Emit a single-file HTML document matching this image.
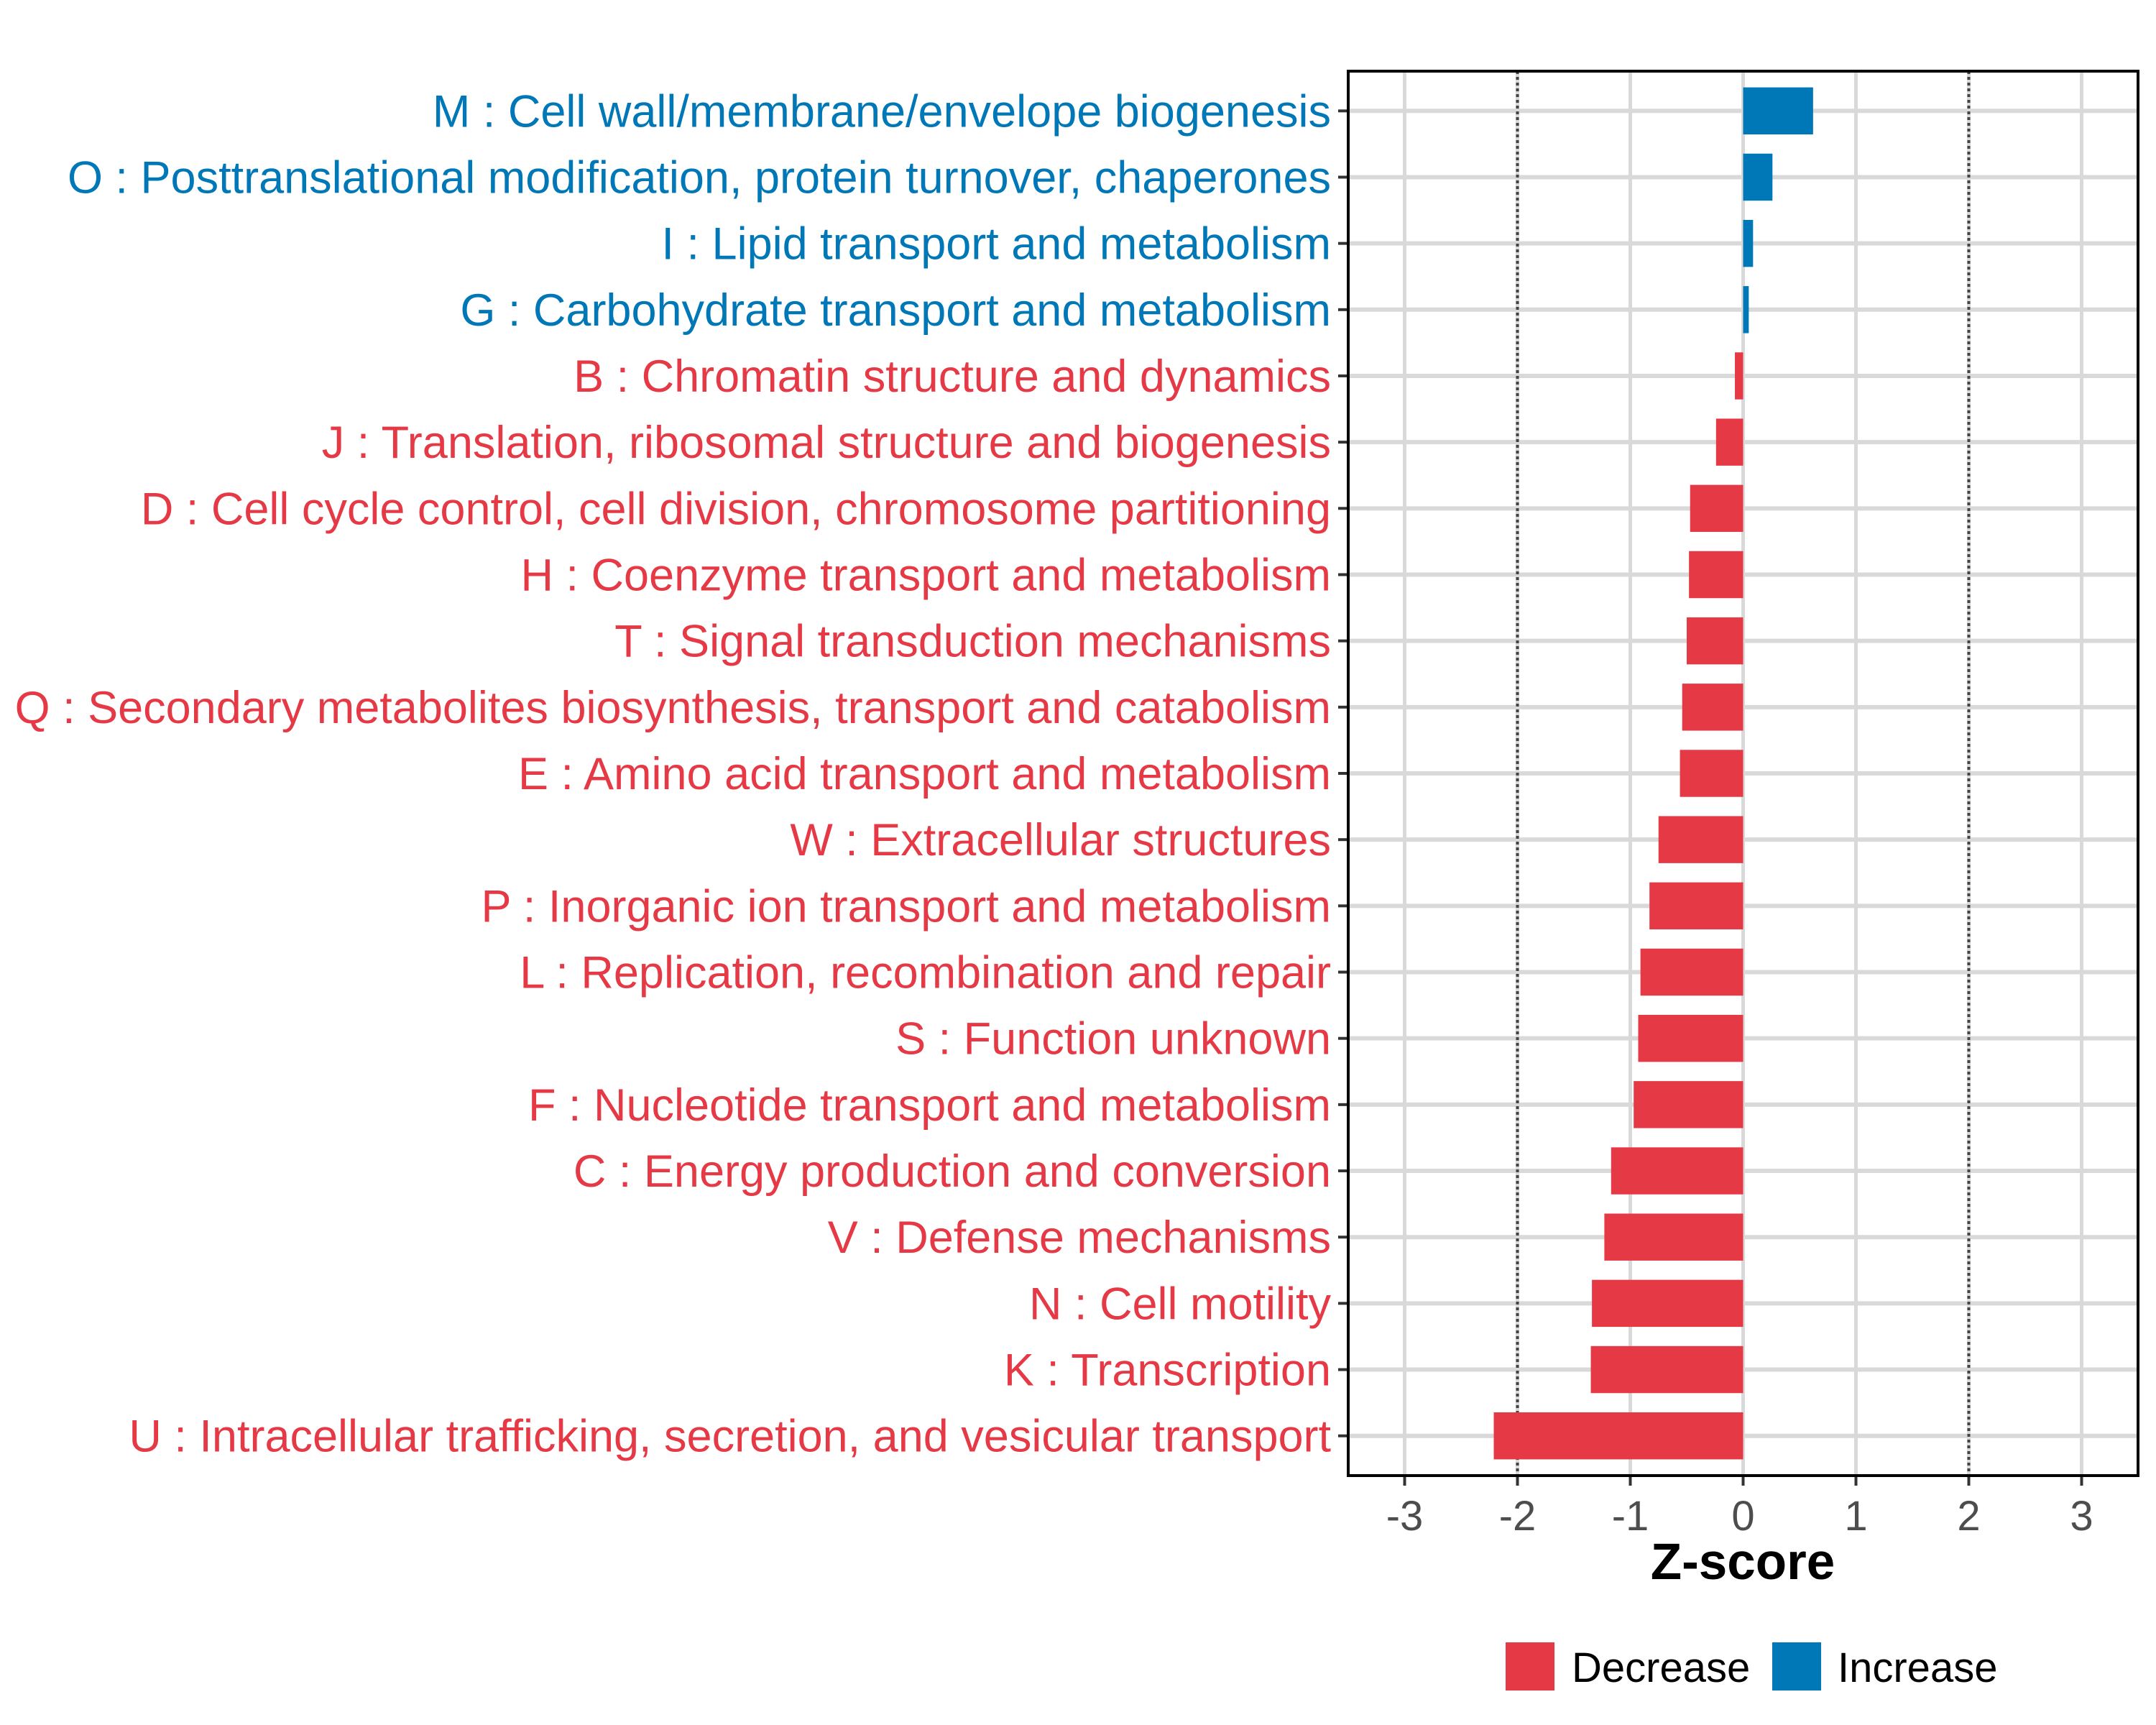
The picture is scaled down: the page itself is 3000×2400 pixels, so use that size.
<!DOCTYPE html>
<html><head><meta charset="utf-8"><style>
html,body{margin:0;padding:0;background:#fff}
svg{display:block}
text{font-family:"Liberation Sans",Arial,sans-serif}
</style></head><body>
<svg id="chart" width="3000" height="2400" viewBox="0 0 3000 2400" xmlns="http://www.w3.org/2000/svg">
<rect x="0" y="0" width="3000" height="2400" fill="#fff"/>
<g id="grid"></g>
<g id="bars"></g>
<g id="ylabels"></g>
<g id="xaxis"></g>
<rect x="1876" y="99" width="1099" height="1954" fill="none" stroke="#000" stroke-width="4"/>
<text x="2425" y="2197" text-anchor="middle" font-size="71" font-weight="bold" fill="#000">Z-score</text>
<g>
<rect x="2095" y="2285" width="68" height="67" fill="#e63946"/>
<text x="2187" y="2340" font-size="58" fill="#000">Decrease</text>
<rect x="2466" y="2285" width="68" height="67" fill="#0077b6"/>
<text x="2557" y="2340" font-size="58" fill="#000">Increase</text>
</g>
</svg>
<script>
const categories = [
"M : Cell wall/membrane/envelope biogenesis",
"O : Posttranslational modification, protein turnover, chaperones",
"I : Lipid transport and metabolism",
"G : Carbohydrate transport and metabolism",
"B : Chromatin structure and dynamics",
"J : Translation, ribosomal structure and biogenesis",
"D : Cell cycle control, cell division, chromosome partitioning",
"H : Coenzyme transport and metabolism",
"T : Signal transduction mechanisms",
"Q : Secondary metabolites biosynthesis, transport and catabolism",
"E : Amino acid transport and metabolism",
"W : Extracellular structures",
"P : Inorganic ion transport and metabolism",
"L : Replication, recombination and repair",
"S : Function unknown",
"F : Nucleotide transport and metabolism",
"C : Energy production and conversion",
"V : Defense mechanisms",
"N : Cell motility",
"K : Transcription",
"U : Intracellular trafficking, secretion, and vesicular transport"
];
const zscores = [0.62,0.26,0.088,0.05,-0.073,-0.24,-0.47,-0.48,-0.50,-0.54,-0.56,-0.75,-0.83,-0.91,-0.93,-0.97,-1.17,-1.23,-1.34,-1.35,-2.21];
const xTicks = [-3,-2,-1,0,1,2,3];
const xTickLabels = ["-3","-2","-1","0","1","2","3"];
const thresholds = [-2,2];

const NS = "http://www.w3.org/2000/svg";
const PL = 1876, PR = 2975, PT = 99, PB = 2053;
const XMIN = -3.5, XMAX = 3.5;
const RED = "#e63946", BLUE = "#0077b6";
function xs(v){ return PL + (v - XMIN) / (XMAX - XMIN) * (PR - PL); }
const n = categories.length;
function ys(i){ return PT + (PB - PT) * (i + 0.6) / (n - 1 + 1.2); }
const step = (PB - PT) / (n - 1 + 1.2);
function mk(tag, attrs, parent){
  const e = document.createElementNS(NS, tag);
  for (const k in attrs) e.setAttribute(k, attrs[k]);
  parent.appendChild(e); return e;
}
const grid = document.getElementById("grid");
const bars = document.getElementById("bars");
const ylab = document.getElementById("ylabels");
const xax = document.getElementById("xaxis");

xTicks.forEach((t, k) => {
  const l = mk("line", {x1: xs(t), x2: xs(t), y1: PT, y2: PB, stroke: "#d9d9d9", "stroke-width": 5}, grid);
  
  
  const tk = mk("line", {x1: xs(t), x2: xs(t), y1: PB, y2: PB + 14, stroke: "#333", "stroke-width": 4}, xax);
  
  
  const tl = mk("text", {x: xs(t), y: PB + 76, "text-anchor": "middle", "font-size": 58, fill: "#4d4d4d"}, xax);
  tl.textContent = xTickLabels[k];
  
  
});
categories.forEach((c, i) => {
  const y = ys(i);
  const g = mk("line", {x1: PL, x2: PR, y1: y, y2: y, stroke: "#d9d9d9", "stroke-width": 6}, grid);
  
  
});
thresholds.forEach(t => {
  const l = mk("line", {x1: xs(t), x2: xs(t), y1: PT, y2: PB, stroke: "#444", "stroke-width": 4, "stroke-dasharray": "4 4"}, grid);
  
  
});
const bw = step * 0.71;
categories.forEach((c, i) => {
  const v = zscores[i], y = ys(i);
  const col = v >= 0 ? BLUE : RED;
  const x0 = xs(Math.min(0, v)), x1 = xs(Math.max(0, v));
  const b = mk("rect", {x: x0, y: y - bw / 2, width: Math.max(x1 - x0, 0.5), height: bw, fill: col}, bars);
  
  
  const tk = mk("line", {x1: PL - 14, x2: PL, y1: y, y2: y, stroke: "#333", "stroke-width": 4}, ylab);
  
  
  const t = mk("text", {x: PL - 24, y: y + 22, "text-anchor": "end", "font-size": 63, fill: col}, ylab);
  t.textContent = c;
  
  
});
</script>
</body></html>
